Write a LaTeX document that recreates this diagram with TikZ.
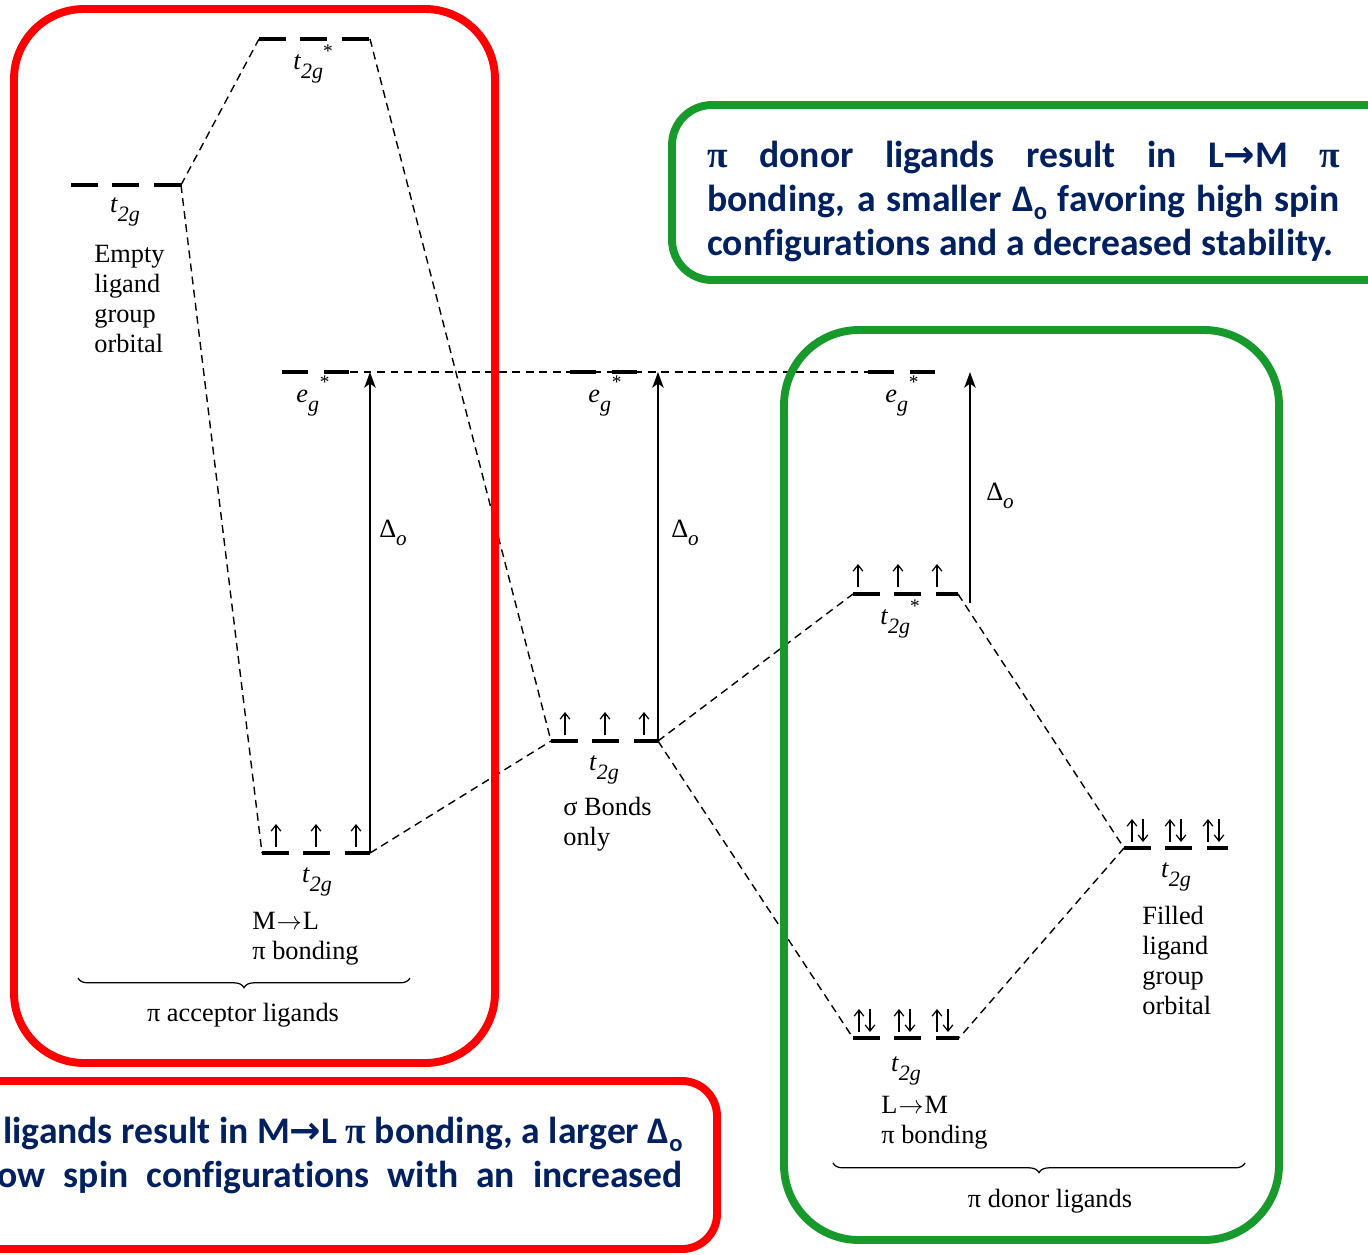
\documentclass[tikz,border=0pt]{standalone}
\usepackage{fontspec}
\setmainfont{Liberation Serif}
\newfontfamily\calib{Carlito}[Ligatures={NoCommon,NoContextual}]
\newfontfamily\arrowfont{DejaVu Sans}
\usetikzlibrary{arrows.meta,decorations.pathreplacing}
\definecolor{navy}{HTML}{002060}
\definecolor{boxred}{HTML}{FF0000}
\definecolor{boxgreen}{HTML}{17992B}
\newcommand\tlab{\textit{t}\raisebox{-0.7ex}{\fontsize{12.5}{12.5}\selectfont\textit{2g}}}
\newcommand\tslab{\tlab\raisebox{1.0ex}{\fontsize{11}{11}\selectfont *}}
\newcommand\elab{\textit{e}\rlap{\raisebox{-0.75ex}{\fontsize{12.5}{12.5}\selectfont\textit{g}}}\hspace{0.45em}\raisebox{1.1ex}{\fontsize{11}{11}\selectfont *}}
\newcommand\dlab{Δ\raisebox{-0.6ex}{\fontsize{12}{12}\selectfont\textit{o}}}
\newcommand\bpi{{\rmfamily\bfseries π}}
\newcommand\barr{{\arrowfont\bfseries →}}
\newcommand\bdel{Δ\raisebox{-0.45ex}{\fontsize{14}{14}\selectfont o}}
\newcommand\sarr{\kern0.5pt$\rightarrow$\kern0.5pt}
\begin{document}
\begin{tikzpicture}[x=0.02cm,y=-0.02cm,
  lvl/.style={line width=2.3pt, dash pattern=on 15.3pt off 8.3pt},
  lvltwo/.style={line width=2.3pt, dash pattern=on 14.7pt off 9pt},
  conn/.style={line width=0.8pt, dash pattern=on 4.5pt off 3pt},
  egline/.style={line width=0.7pt, dash pattern=on 4.5pt off 3.2pt},
  gap/.style={line width=1pt, -{Stealth[length=9pt,width=6.5pt,inset=2.5pt]}},
  eup/.style={line width=0.7pt, -{Straight Barb[length=3.5pt,width=5.5pt]}},
  lab/.style={inner sep=0pt, font=\fontsize{15}{17}\selectfont},
  blk/.style={inner sep=0pt, align=left, font=\fontsize{15}{17}\selectfont},
  bluetext/.style={inner sep=0pt, align=left, text=navy, font=\calib\bfseries\fontsize{21.4}{25}\selectfont},
  redframe/.style={draw=boxred, line width=4.5pt},
  greenframe/.style={draw=boxgreen, line width=4.5pt},
  brace/.style={decorate, decoration={brace, mirror, amplitude=5.5pt}, line width=0.7pt}
]
\useasboundingbox (0,0) rectangle (1368,1254);
\clip (0,0) rectangle (1368,1254);

% level end points
\coordinate (tsA) at (259,39);   \coordinate (tsB) at (370,39);
\coordinate (etA) at (71,185);   \coordinate (etB) at (181,185);
\coordinate (mlA) at (262,853);  \coordinate (mlB) at (370,853);
\coordinate (sgA) at (551,741);  \coordinate (sgB) at (658,741);
\coordinate (trA) at (853,594);  \coordinate (trB) at (958,594);
\coordinate (flA) at (1124,848); \coordinate (flB) at (1228,848);
\coordinate (lmA) at (853,1038); \coordinate (lmB) at (959,1038);
\coordinate (egLA) at (282,372); \coordinate (egLB) at (350,372);
\coordinate (egMA) at (570,372); \coordinate (egMB) at (640,372);
\coordinate (egRA) at (868,372); \coordinate (egRB) at (937,372);
\coordinate (dL) at (370,372);   \coordinate (dM) at (658,372);
\coordinate (dR0) at (970,603);  \coordinate (dR) at (970,372);

% eg* reference line
\draw[egline] (egLB) -- (egRA);

% levels
\draw[lvl] (tsA) -- (tsB);
\draw[lvl] (etA) -- (etB);
\draw[lvl] (mlA) -- (mlB);
\draw[lvl] (sgA) -- (sgB);
\draw[lvl] (trA) -- (trB);
\draw[lvl] (flA) -- (flB);
\draw[lvl] (lmA) -- (lmB);
\draw[lvltwo] (egLA) -- (egLB);
\draw[lvltwo] (egMA) -- (egMB);
\draw[lvltwo] (egRA) -- (egRB);

% correlation lines
\draw[conn] (etB) -- (tsA);
\draw[conn] (etB) -- (mlA);
\draw[conn] (tsB) -- (sgA);
\draw[conn] (mlB) -- (sgA);
\draw[conn] (sgB) -- (trA);
\draw[conn] (sgB) -- (lmA);
\draw[conn] (trB) -- (flA);
\draw[conn] (flA) -- (lmB);

% Delta_o arrows
\draw[gap] (mlB) -- (dL);
\draw[gap] (sgB) -- (dM);
\draw[gap] (dR0) -- (dR);

% electrons
\foreach \x in {276,316,356} \draw[eup] (\x,847) -- (\x,824);
\foreach \x in {565,605,644} \draw[eup] (\x,735) -- (\x,712);
\foreach \x in {858,898,937} \draw[eup] (\x,587) -- (\x,564);
\foreach \x in {1138,1176,1214} {
  \draw[eup] (\x-6,842) -- (\x-6,819);
  \draw[eup] (\x+5,819) -- (\x+5,842);
}
\foreach \x in {865,905,943} {
  \draw[eup] (\x-6,1032) -- (\x-6,1009);
  \draw[eup] (\x+5,1009) -- (\x+5,1032);
}

% labels
\node[lab] (l-ts) at (313,64) {\tslab};
\node[lab] (l-et) at (125,212) {\tlab};
\node[blk, anchor=north west] (l-empty) at (94,245) {Empty\\ligand\\group\\orbital};
\node[lab] (l-egL) at (313,396) {\elab};
\node[lab] (l-egM) at (605,396) {\elab};
\node[lab] (l-egR) at (902,396) {\elab};
\node[lab] (l-dL) at (393,533) {\dlab};
\node[lab] (l-dM) at (685,533) {\dlab};
\node[lab] (l-dR) at (1000,496) {\dlab};
\node[lab] (l-ml) at (317,882) {\tlab};
\node[blk, anchor=north west] (l-mltxt) at (252,912) {M\sarr L\\π bonding};
\node[lab] (l-sg) at (604,770) {\tlab};
\node[blk, anchor=north west] (l-sgtxt) at (563,797) {σ Bonds\\only};
\node[lab] (l-tr) at (900,619) {\tslab};
\node[lab] (l-fl) at (1176,877) {\tlab};
\node[blk, anchor=north west] (l-filled) at (1142,906) {Filled\\ligand\\group\\orbital};
\node[lab] (l-lm) at (906,1071) {\tlab};
\node[blk, anchor=north west] (l-lmtxt) at (881,1096) {L\sarr M\\π bonding};

% braces
\coordinate (brLA) at (78,978);  \coordinate (brLB) at (410,978);
\coordinate (brRA) at (833,1163); \coordinate (brRB) at (1245,1163);
\draw[brace] (brLA) -- (brLB);
\draw[brace] (brRA) -- (brRB);
\node[lab, anchor=base] (l-acc) at (243,1021) {π acceptor ligands};
\node[lab, anchor=base] (l-don) at (1050,1207) {π donor ligands};

% frames
\draw[redframe, rounded corners=1.4cm] (14,9) rectangle (495,1063);
\draw[redframe, rounded corners=0.7cm] (-80,1081) rectangle (717,1249);
\draw[greenframe, rounded corners=0.8cm] (672,105) rectangle (1410,280);
\draw[greenframe, rounded corners=1.5cm] (784,330) rectangle (1279,1240);

% explanatory texts
\node[bluetext, anchor=north west] (gtext) at (707,141) {%
\makebox[12.66cm][s]{\bpi{} donor ligands result in L\barr M \bpi}\\
\makebox[12.64cm][s]{bonding, a smaller \bdel{} favoring high spin}\\
configurations and a decreased stability.};
\node[bluetext, anchor=north east, align=right] (rtext) at (683,1117) {%
ligands result in M\barr L \bpi{} bonding, a larger \bdel\\
\makebox[13.7cm][s]{ow spin configurations with an increased}};
\end{tikzpicture}
\end{document}
